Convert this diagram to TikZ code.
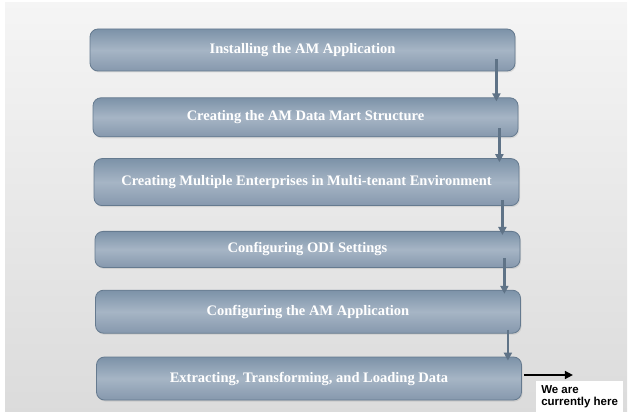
\documentclass[tikz,border=0pt]{standalone}
\usepackage{fontspec}
\setmainfont{Liberation Serif}
\setsansfont{Liberation Sans}
\usetikzlibrary{arrows.meta, positioning, calc, shadows}
\definecolor{stepedge}{RGB}{101, 122, 143}
\definecolor{steptop}{RGB}{124, 146, 168}
\definecolor{stepmid}{RGB}{166, 181, 197}
\definecolor{stepbot}{RGB}{134, 152, 173}
\definecolor{flowgray}{RGB}{95, 115, 135}

\begin{document}
\begin{tikzpicture}[
        stepbox/.style={draw=stepedge, line width=0.8pt, rounded corners=8pt,
                        minimum width=425pt, minimum height=42pt, align=center,
                        top color=steptop, bottom color=stepbot, middle color=stepmid,
                        text=white, font=\fontsize{14.5}{16}\selectfont\bfseries,
                        drop shadow={opacity=0.2, shadow xshift=1pt, shadow yshift=-1.5pt}},
        flow/.style={-{Triangle[length=8pt, width=8pt]}, line width=2.5pt, draw=flowgray},
        pointer/.style={-{Triangle[length=8pt, width=8pt]}, line width=1.5pt, black},
        note/.style={fill=white, align=left, inner sep=3pt, minimum width=87pt,
                     minimum height=31pt, font=\sffamily\bfseries\fontsize{11.5}{12.5}\selectfont},
    ]
        \useasboundingbox (0,0) rectangle (628pt,415pt);
        \shade[top color=black!4, bottom color=black!14] (5pt,4pt) rectangle (627pt,412pt);

        \node[stepbox] (install) at (302.5pt,365pt) {Installing the AM Application};
        \node[stepbox, minimum height=39pt] (mart) [below=26pt of install, xshift=3pt] {Creating the AM Data Mart Structure};
        \node[stepbox, minimum height=47pt] (multi) [below=21pt of mart, xshift=1pt] {Creating Multiple Enterprises in Multi-tenant Environment};
        \node[stepbox, minimum height=36pt] (odi) [below=25pt of multi, xshift=1pt] {Configuring ODI Settings};
        \node[stepbox, minimum height=43pt] (config) [below=22pt of odi, xshift=0.5pt] {Configuring the AM Application};
        \node[stepbox, minimum height=43pt] (etl) [below=23pt of config, xshift=1pt] {Extracting, Transforming, and Loading Data};

        \foreach \a/\b/\dx/\up in {install/mart/19/12, mart/multi/19/9, multi/odi/17/6, odi/config/16/10, config/etl/13/4}
            \draw[flow, shorten >=-4pt] ([xshift=-\dx pt, yshift=\up pt]\a.south east) -- ([xshift=-\dx pt]\a.south east |- \b.north);

        \coordinate (tip) at ([xshift=51pt, yshift=3.5pt]etl.east);
        \draw[pointer] ([xshift=2pt, yshift=3.5pt]etl.east) -- (tip);
        \node[note, anchor=north west] (here) at ([xshift=14pt, yshift=-2.5pt]etl.east) {We are\\currently here};
    \end{tikzpicture}
\end{document}
